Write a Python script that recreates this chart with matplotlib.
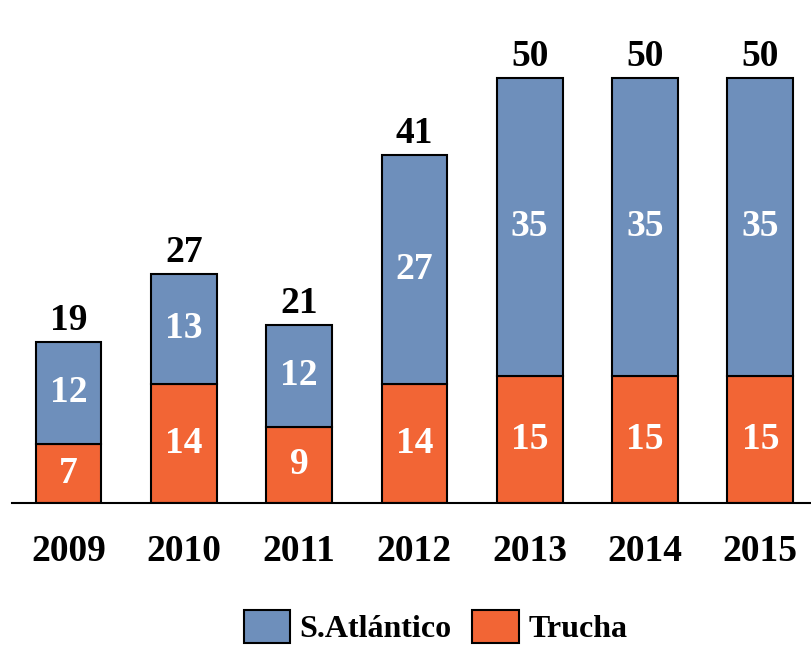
import matplotlib.pyplot as plt
import numpy as np

years = ["2009", "2010", "2011", "2012", "2013", "2014", "2015"]
trucha = [7, 14, 9, 14, 15, 15, 15]
atlantico = [12, 13, 12, 27, 35, 35, 35]
totals = [19, 27, 21, 41, 50, 50, 50]

blue = "#6E8FBB"
orange = "#F26535"

plt.rcParams['font.family'] = ['Liberation Serif', 'DejaVu Serif']
plt.rcParams['font.weight'] = 'bold'

fig = plt.figure(figsize=(8.11, 6.45), dpi=100)
ax = fig.add_axes([12 / 811, 142 / 645, 799 / 811, 503 / 645])

x = np.arange(len(years))
w = 0.57
ax.bar(x, trucha, w, color=orange, edgecolor="black", linewidth=1.5, label="Trucha")
ax.bar(x, atlantico, w, bottom=trucha, color=blue, edgecolor="black", linewidth=1.5, label="S.Atlántico")

fs = 27
for i in range(len(years)):
    ax.text(x[i], trucha[i] / 2, str(trucha[i]), ha="center", va="center",
            color="white", fontsize=fs, fontweight="bold")
    ax.text(x[i], trucha[i] + atlantico[i] / 2, str(atlantico[i]), ha="center", va="center",
            color="white", fontsize=fs, fontweight="bold")
    ax.text(x[i], totals[i] + 1.4, str(totals[i]), ha="center", va="baseline",
            color="black", fontsize=fs, fontweight="bold")

ax.set_xlim(-0.49, 6.44)
ax.set_ylim(0, 503 / 8.5)
ax.set_xticks(x)
ax.set_xticklabels(years, fontsize=fs, fontweight="bold")
ax.tick_params(axis="x", length=0, pad=22)
ax.set_yticks([])
for s in ["top", "right", "left"]:
    ax.spines[s].set_visible(False)
ax.spines["bottom"].set_linewidth(1.5)

handles, labels = ax.get_legend_handles_labels()
fig.legend(handles[::-1], labels[::-1], loc="center", bbox_to_anchor=(0.537, 0.028),
           ncol=2, frameon=False, prop={"size": 23, "weight": "bold"},
           handlelength=1.45, handleheight=1.25, columnspacing=0.65, handletextpad=0.3,
           borderpad=0.1)

fig.savefig("out.png", dpi=100)
